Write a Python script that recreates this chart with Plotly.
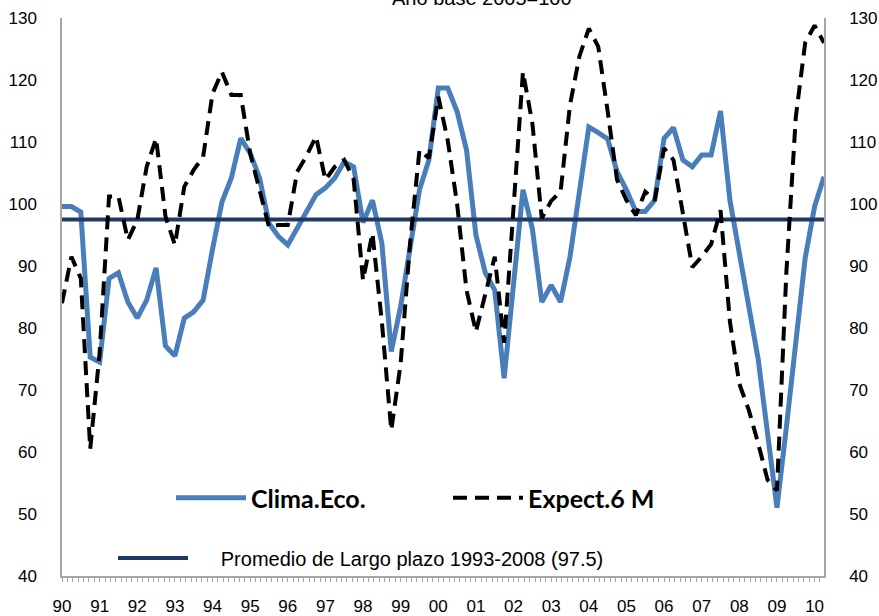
import plotly.graph_objects as go

# ---- data (quarterly, 1990Q1 .. 2010Q2) ----
first_year = 1990
clima_eco = [
    99.6, 99.6, 98.7, 75.3,     # 1990
    74.5, 88.0, 88.9, 84.2,     # 1991
    81.6, 84.5, 89.7, 77.1,     # 1992
    75.5, 81.6, 82.6, 84.5,     # 1993
    92.7, 100.3, 104.2, 110.6,  # 1994
    108.2, 104.2, 96.9, 94.8,   # 1995
    93.4, 96.1, 99.0, 101.5,    # 1996
    102.6, 104.2, 106.8, 106.0, # 1997
    97.0, 100.6, 93.7, 76.2,    # 1998
    83.5, 92.5, 102.3, 107.1,   # 1999
    118.7, 118.7, 114.9, 108.7, # 2000
    95.0, 88.9, 86.1, 71.9,     # 2001
    87.0, 102.3, 96.0, 84.2,    # 2002
    86.9, 84.2, 91.5, 101.5,    # 2003
    112.4, 111.5, 110.5, 105.2, # 2004
    102.3, 98.8, 98.8, 100.6,   # 2005
    110.6, 112.3, 107.1, 106.0, # 2006
    107.9, 107.9, 115.0, 100.6, # 2007
    92.0, 83.5, 75.0, 63.0,     # 2008
    51.0, 64.0, 77.8, 91.3,     # 2009
    99.6, 104.4,                # 2010
]
expect_6m = [
    84.0, 91.5, 88.0, 60.5,     # 1990
    76.0, 101.2, 101.2, 94.2,   # 1991
    97.4, 106.0, 110.6, 98.0,   # 1992
    93.4, 102.8, 105.5, 107.6,  # 1993
    117.8, 121.3, 117.6, 117.6, # 1994
    108.2, 102.0, 96.3, 96.6,   # 1995
    96.6, 105.2, 107.8, 110.9,  # 1996
    103.9, 106.0, 107.1, 104.0, # 1997
    87.7, 95.3, 81.0, 63.5,     # 1998
    74.3, 93.7, 108.7, 107.4,   # 1999
    117.3, 110.3, 100.0, 86.1,  # 2000
    79.4, 85.5, 91.5, 77.6,     # 2001
    99.5, 121.3, 113.0, 97.7,   # 2002
    100.5, 102.0, 116.0, 123.8, # 2003
    128.3, 125.4, 115.0, 103.9, # 2004
    100.6, 98.2, 102.0, 100.6,  # 2005
    109.0, 107.1, 98.5, 89.8,   # 2006
    91.5, 93.5, 99.0, 81.0,     # 2007
    71.0, 66.8, 61.4, 55.5,     # 2008
    53.8, 89.0, 114.0, 126.0,   # 2009
    128.8, 126.0,               # 2010
]
promedio_largo_plazo = 97.5
year_ticks = list(range(1990, 2011))
year_labels = ["90", "91", "92", "93", "94", "95", "96", "97", "98", "99", "00",
               "01", "02", "03", "04", "05", "06", "07", "08", "09", "10"]

x_q = [first_year + i / 4 for i in range(len(clima_eco))]
promedio_series = [promedio_largo_plazo] * len(x_q)

fig = go.Figure()
fig.add_trace(go.Scatter(
    x=x_q, y=clima_eco, mode="lines", name="Clima.Eco.",
    line=dict(color="#4a7ebb", width=5), legend="legend"))
fig.add_trace(go.Scatter(
    x=x_q, y=expect_6m, mode="lines", name="Expect.6 M", yaxis="y2",
    line=dict(color="black", width=4, dash="14px,8px"), legend="legend2"))
fig.add_trace(go.Scatter(
    x=x_q, y=promedio_series, mode="lines",
    name="\u00a0\u00a0\u00a0\u00a0\u00a0Promedio de Largo plazo 1993-2008 (97.5)",
    line=dict(color="#1f3864", width=4), legend="legend3"))

axis_font = dict(family="Liberation Sans, Arial", size=17, color="black")
gray = "#a6a6a6"

L, T, W, H = 62, 18, 762, 558


def px(xs):
    return (xs - L) / W


def py(ys):
    return (T + H - ys) / H


fig.update_layout(
    width=879, height=616,
    margin=dict(l=L, r=879 - L - W, t=T, b=616 - T - H, autoexpand=False),
    paper_bgcolor="white", plot_bgcolor="white",
    showlegend=True,
    xaxis=dict(range=[1990, 2010.25], tickmode="array", tickvals=year_ticks,
               ticktext=year_labels, ticks="outside", ticklen=4, tickcolor=gray,
               showline=True, linecolor=gray, linewidth=1.5, showgrid=False,
               zeroline=False, tickfont=axis_font, ticklabelstandoff=10,
               automargin=False,
               minor=dict(ticks="outside", ticklen=4, tickcolor=gray,
                          tick0=1990, dtick=1 / 7)),
    yaxis=dict(range=[40, 130], dtick=10, showline=True, linecolor=gray,
               linewidth=1.5, showgrid=False, zeroline=False, ticks="",
               tickfont=axis_font, ticklabelstandoff=20, automargin=False),
    yaxis2=dict(range=[40, 130], dtick=10, overlaying="y", side="right",
                showline=True, linecolor=gray, linewidth=1.5, showgrid=False,
                zeroline=False, ticks="", tickfont=axis_font,
                ticklabelstandoff=20, automargin=False),
    legend=dict(x=px(171), y=py(498), xanchor="left",
                yanchor="middle", bgcolor="rgba(0,0,0,0)", itemwidth=70,
                font=dict(family="Lato", size=25, color="black", weight="bold")),
    legend2=dict(x=px(448), y=py(498), xanchor="left",
                 yanchor="middle", bgcolor="rgba(0,0,0,0)", itemwidth=70,
                 font=dict(family="Lato", size=25, color="black", weight="bold")),
    legend3=dict(x=px(113), y=py(558), xanchor="left",
                 yanchor="middle", bgcolor="rgba(0,0,0,0)", itemwidth=70,
                 font=dict(family="Liberation Sans, Arial", size=20, color="black")),
    annotations=[dict(text="Año base 2005=100", xref="paper", yref="paper",
                      x=px(482), y=py(11), xanchor="center",
                      yanchor="bottom", showarrow=False,
                      font=dict(family="Liberation Sans, Arial", size=20,
                                color="black"))],
)

fig.write_html("out.html",
               config={"displayModeBar": False},
               post_script="document.body.style.margin='0';"
                           "document.body.style.overflow='hidden';")
